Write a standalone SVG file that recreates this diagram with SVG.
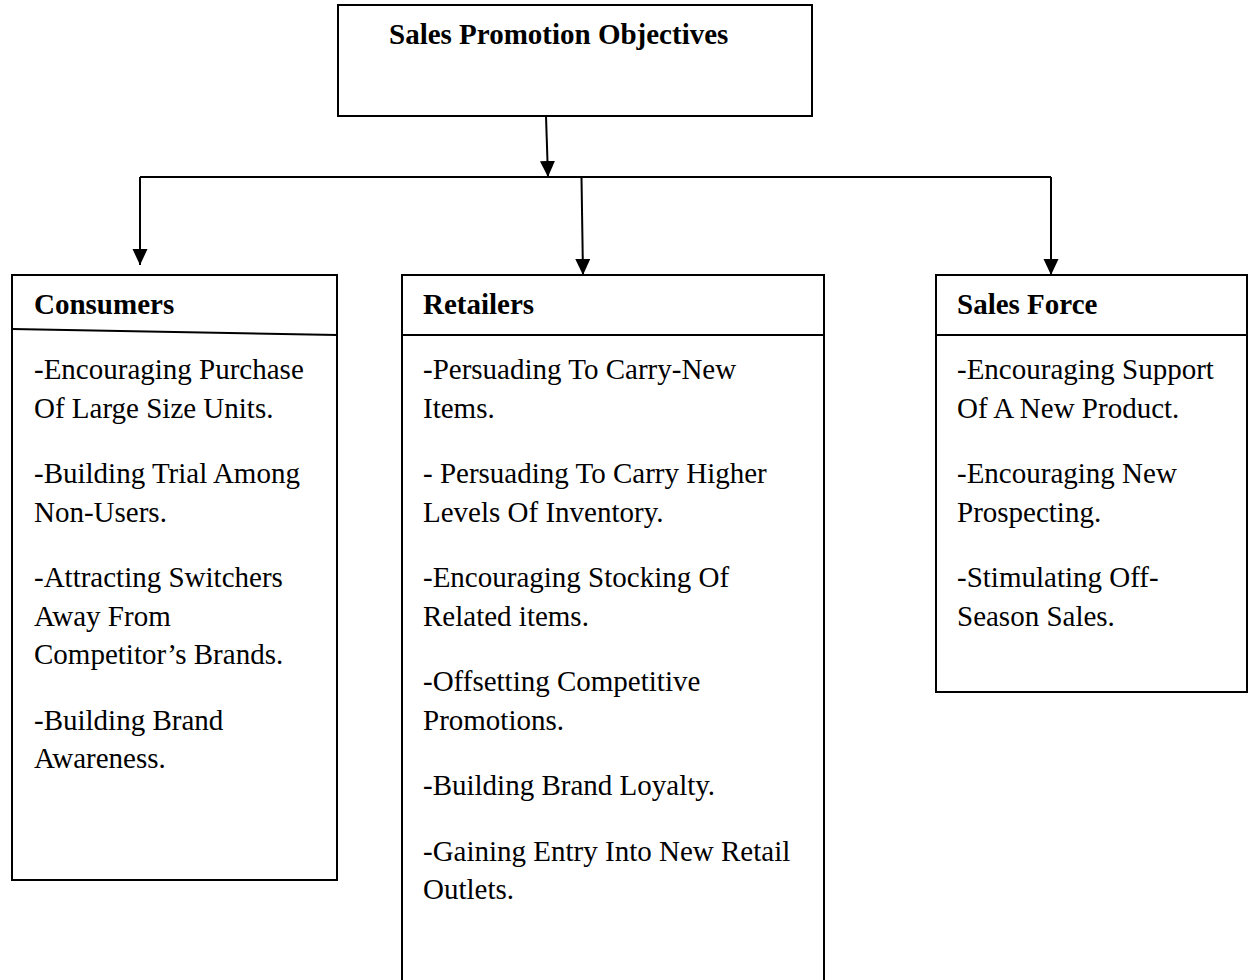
<svg xmlns="http://www.w3.org/2000/svg" width="1256" height="980" viewBox="0 0 1256 980">
  <style>
    .box { fill: #ffffff; stroke: #000000; stroke-width: 2; }
    .rule { stroke: #000000; stroke-width: 2; fill: none; }
    .wire { stroke: #000000; stroke-width: 2; fill: none; }
    .head { font-family: "Liberation Serif", "Times New Roman", serif; font-size: 29px; font-weight: bold; fill: #000000; }
    .body { font-family: "Liberation Serif", "Times New Roman", serif; font-size: 29px; fill: #000000; }
  </style>
  <defs>
    <marker id="arrow" markerUnits="userSpaceOnUse" markerWidth="16" markerHeight="18" refX="16" refY="7.5" orient="auto">
      <path d="M0,0 L16,7.5 L0,15 Z" fill="#000000"/>
    </marker>
  </defs>
  <rect width="1256" height="980" fill="#ffffff"/>

  <!-- connectors -->
  <g id="connectors">
    <line class="wire" x1="546" y1="116" x2="548" y2="177" marker-end="url(#arrow)"/>
    <line class="wire" x1="140" y1="177" x2="1051" y2="177"/>
    <line class="wire" x1="140" y1="177" x2="140" y2="265" marker-end="url(#arrow)"/>
    <line class="wire" x1="581.5" y1="177" x2="583" y2="275" marker-end="url(#arrow)"/>
    <line class="wire" x1="1051" y1="177" x2="1051" y2="275" marker-end="url(#arrow)"/>
  </g>

  <!-- root -->
  <g id="objectives">
    <rect class="box" x="338" y="5" width="474" height="111"/>
    <text class="head" x="389" y="44">Sales Promotion Objectives</text>
  </g>

  <!-- consumers -->
  <g id="consumers">
    <rect class="box" x="12" y="275" width="325" height="605"/>
    <line class="rule" x1="12" y1="329" x2="337" y2="335"/>
    <text class="head" x="34" y="314">Consumers</text>
    <text class="body" x="34" y="379">-Encouraging Purchase</text>
    <text class="body" x="34" y="417.5">Of Large Size Units.</text>
    <text class="body" x="34" y="483">-Building Trial Among</text>
    <text class="body" x="34" y="521.5">Non-Users.</text>
    <text class="body" x="34" y="587">-Attracting Switchers</text>
    <text class="body" x="34" y="625.5">Away From</text>
    <text class="body" x="34" y="664">Competitor’s Brands.</text>
    <text class="body" x="34" y="729.5">-Building Brand</text>
    <text class="body" x="34" y="768">Awareness.</text>
  </g>

  <!-- retailers -->
  <g id="retailers">
    <rect class="box" x="402" y="275" width="422" height="720"/>
    <line class="rule" x1="402" y1="335" x2="824" y2="335"/>
    <text class="head" x="423" y="314">Retailers</text>
    <text class="body" x="423" y="379">-Persuading To Carry-New</text>
    <text class="body" x="423" y="417.5">Items.</text>
    <text class="body" x="423" y="483">- Persuading To Carry Higher</text>
    <text class="body" x="423" y="521.5">Levels Of Inventory.</text>
    <text class="body" x="423" y="587">-Encouraging Stocking Of</text>
    <text class="body" x="423" y="625.5">Related items.</text>
    <text class="body" x="423" y="691">-Offsetting Competitive</text>
    <text class="body" x="423" y="729.5">Promotions.</text>
    <text class="body" x="423" y="795">-Building Brand Loyalty.</text>
    <text class="body" x="423" y="860.5">-Gaining Entry Into New Retail</text>
    <text class="body" x="423" y="899">Outlets.</text>
  </g>

  <!-- sales force -->
  <g id="sales-force">
    <rect class="box" x="936" y="275" width="311" height="417"/>
    <line class="rule" x1="936" y1="335" x2="1247" y2="335"/>
    <text class="head" x="957" y="314">Sales Force</text>
    <text class="body" x="957" y="379">-Encouraging Support</text>
    <text class="body" x="957" y="417.5">Of A New Product.</text>
    <text class="body" x="957" y="483">-Encouraging New</text>
    <text class="body" x="957" y="521.5">Prospecting.</text>
    <text class="body" x="957" y="587">-Stimulating Off-</text>
    <text class="body" x="957" y="625.5">Season Sales.</text>
  </g>
</svg>
